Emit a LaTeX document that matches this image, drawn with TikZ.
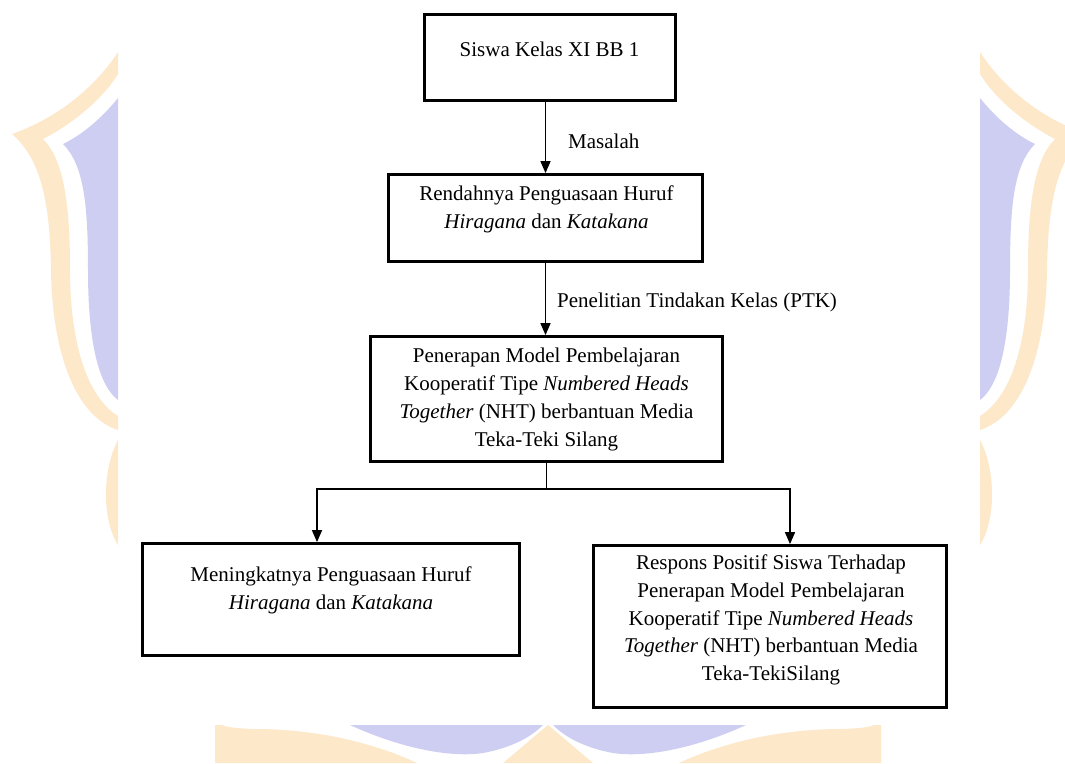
\documentclass[tikz,border=0pt]{standalone}
\usepackage{fontspec}
\setmainfont{Liberation Serif}
\usetikzlibrary{arrows.meta}
\definecolor{wmY}{RGB}{253,232,202}
\definecolor{wmL}{RGB}{206,206,242}
\tikzset{
  wmside/.pic={
    \fill[wmY] (118,52) .. controls (92,92) and (52,120) .. (12,134)
      .. controls (42,160) and (50,205) .. (51,270)
      .. controls (52,345) and (72,415) .. (118,430) -- (118,416)
      .. controls (84,395) and (70,335) .. (70,270)
      .. controls (70,205) and (64,160) .. (43,139)
      .. controls (72,124) and (102,100) .. (118,74) -- cycle;
    \fill[wmL] (118,98) .. controls (102,118) and (82,135) .. (63,144)
      .. controls (84,165) and (88,205) .. (88,270)
      .. controls (88,340) and (98,385) .. (118,400) -- cycle;
    \fill[wmY] (118,440) .. controls (102,470) and (102,520) .. (118,545) -- cycle;
  },
  wmbottom/.pic={
    \fill[wmY] (215,725) -- (215,763) -- (417,763)
      .. controls (385,748) and (330,730) .. (260,729)
      .. controls (240,729) and (225,727) .. (222,725) -- cycle;
    \fill[wmL] (350,725) .. controls (400,748) and (450,758) .. (483,753)
      .. controls (510,748) and (530,738) .. (543,725) -- cycle;
    \fill[wmY] (548,725) -- (503,763) -- (548,763) -- cycle;
  }
}
\begin{document}
\begin{tikzpicture}[x=1pt,y=-1pt,
  box/.style={draw, line width=2.8pt, inner sep=0pt},
  txt/.style={align=center, inner sep=0pt, font=\fontsize{21}{27.8}\selectfont},
  lbl/.style={anchor=west, inner sep=0pt, font=\fontsize{21}{25}\selectfont},
  arr/.style={line width=1.5pt, -{Triangle[length=12pt,width=10pt]}}]
\useasboundingbox (0,0) rectangle (1065,763);
\fill[white] (0,0) rectangle (1065,763);
% watermark
\pic at (0,0) {wmside};
\pic[xscale=-1] at (1098,0) {wmside};
\pic at (0,0) {wmbottom};
\pic[xscale=-1] at (1096,0) {wmbottom};
% boxes
\node[box, minimum width=251pt, minimum height=86pt] (b1) at (550,57.5) {};
\node[box, minimum width=314pt, minimum height=87pt] (b2) at (545.5,218) {};
\node[box, minimum width=352pt, minimum height=125pt] (b3) at (546.5,399) {};
\node[box, minimum width=377pt, minimum height=112pt] (b4) at (331,599.5) {};
\node[box, minimum width=353pt, minimum height=162pt] (b5) at (770,626.5) {};
% texts
\node[txt] (t1) at (549.5,49) {Siswa Kelas XI BB 1};
\node[txt] (t2) at (546.5,209) {Rendahnya Penguasaan Huruf\\ \textit{Hiragana} dan \textit{Katakana}};
\node[txt] (t3) at (546.5,399.5) {Penerapan Model Pembelajaran\\ Kooperatif Tipe \textit{Numbered Heads}\\ \textit{Together} (NHT) berbantuan Media\\ Teka-Teki Silang};
\node[txt] (t4) at (331,590) {Meningkatnya Penguasaan Huruf\\ \textit{Hiragana} dan \textit{Katakana}};
\node[txt] (t5) at (771,620) {Respons Positif Siswa Terhadap\\ Penerapan Model Pembelajaran\\ Kooperatif Tipe \textit{Numbered Heads}\\ \textit{Together} (NHT) berbantuan Media\\ Teka-TekiSilang};
% connectors
\draw[arr] (b2.north |- b1.south) -- (b2.north);
\node[lbl] (l1) at (568,141) {Masalah};
\draw[arr] (b2.south) -- (b2.south |- b3.north);
\node[lbl] (l2) at (557,302) {Penelitian Tindakan Kelas (PTK)};
\coordinate (jl) at (317,489);
\coordinate (jr) at (790,489);
\draw[arr] (b3.south) |- (jl) -- (jl |- b4.north);
\draw[arr] (b3.south) |- (jr) -- (jr |- b5.north);
\end{tikzpicture}
\end{document}
